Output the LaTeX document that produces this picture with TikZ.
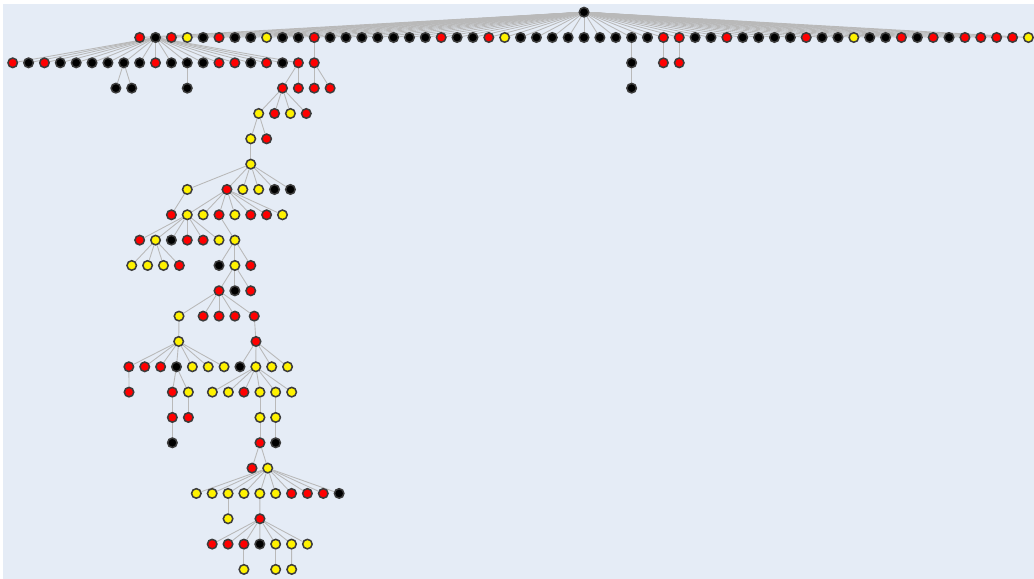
\documentclass[tikz,border=0pt]{standalone}
\definecolor{bgc}{RGB}{229,236,246}
\definecolor{rim}{RGB}{60,60,60}
\definecolor{lnk}{RGB}{185,185,185}
\pgfdeclarelayer{back}
\pgfsetlayers{back,main}
\tikzset{
  dot/.style={circle,draw=rim,line width=1.3pt,inner sep=0pt,minimum size=.285cm},
  R/.style={fill=red},
  B/.style={fill=black},
  Y/.style={fill=yellow},
  edge/.style={draw=lnk,line width=.75pt}
}
\begin{document}
\begin{tikzpicture}[x=.4761cm,y=.7599cm]
\useasboundingbox (-0.8003,0.4803) rectangle (64.354,-22.36);
\node[dot,B] (n0-1) at (36,0) {};
\foreach \s [count=\k] in {R,B,R,Y,B,R,B,B,Y,B,B,R,B,B,B,B,B,B,B,R,B,B,R,Y,B,B,B,B,B,B,B,B,B,R,R,B,B,R,B,B,B,B,R,B,B,Y,B,B,R,B,R,B,R,R,R,R,Y}
  {\node[dot,\s] (n1-\k) at (7+\k,-1) {};}
\foreach \s [count=\k] in {R,B,R,B,B,B,B,B,B,R,B,B,B,R,R,B,R,B,R}
  {\node[dot,\s] (n2-\k) at (\k-1,-2) {};}
\foreach \k/\c/\s in {20/19/R,21/39/B,22/41/R,23/42/R}
  {\node[dot,\s] (n2-\k) at (\c,-2) {};}
\foreach \k/\c/\s in {1/6.5/B,2/7.5/B,3/11/B,4/17/R,5/18/R,6/19/R,7/20/R,8/39/B}
  {\node[dot,\s] (n3-\k) at (\c,-3) {};}
\foreach \k/\c/\s in {1/15.5/Y,2/16.5/R,3/17.5/Y,4/18.5/R}
  {\node[dot,\s] (n4-\k) at (\c,-4) {};}
\node[dot,Y] (n5-1) at (15,-5) {};
\node[dot,R] (n5-2) at (16,-5) {};
\node[dot,Y] (n6-1) at (15,-6) {};
\foreach \k/\c/\s in {1/11/Y,2/13.5/R,3/14.5/Y,4/15.5/Y,5/16.5/B,6/17.5/B}
  {\node[dot,\s] (n7-\k) at (\c,-7) {};}
\foreach \s [count=\k] in {R,Y,Y,R,Y,R,R,Y}
  {\node[dot,\s] (n8-\k) at (9+\k,-8) {};}
\foreach \s [count=\k] in {R,Y,B,R,R,Y,Y}
  {\node[dot,\s] (n9-\k) at (7+\k,-9) {};}
\foreach \k/\c/\s in {1/7.5/Y,2/8.5/Y,3/9.5/Y,4/10.5/R,5/13/B,6/14/Y,7/15/R}
  {\node[dot,\s] (n10-\k) at (\c,-10) {};}
\foreach \k/\c/\s in {1/13/R,2/14/B,3/15/R}
  {\node[dot,\s] (n11-\k) at (\c,-11) {};}
\foreach \k/\c/\s in {1/10.48/Y,2/12/R,3/13/R,4/14/R,5/15.22/R}
  {\node[dot,\s] (n12-\k) at (\c,-12) {};}
\node[dot,Y] (n13-1) at (10.46,-13) {};
\node[dot,R] (n13-2) at (15.33,-13) {};
\foreach \s [count=\k] in {R,R,R,B,Y,Y,Y,B,Y,Y,Y}
  {\node[dot,\s] (n14-\k) at (6.32+\k,-14) {};}
\foreach \k/\c/\s in {1/7.33/R,2/10.06/R,3/11.07/Y,4/12.58/Y,5/13.59/Y,6/14.57/R,7/15.58/Y,8/16.57/Y,9/17.58/Y}
  {\node[dot,\s] (n15-\k) at (\c,-15) {};}
\foreach \k/\c/\s in {1/10.06/R,2/11.07/R,3/15.58/Y,4/16.57/Y}
  {\node[dot,\s] (n16-\k) at (\c,-16) {};}
\foreach \k/\c/\s in {1/10.06/B,2/15.58/R,3/16.57/B}
  {\node[dot,\s] (n17-\k) at (\c,-17) {};}
\node[dot,R] (n18-1) at (15.08,-18) {};
\node[dot,Y] (n18-2) at (16.07,-18) {};
\foreach \s [count=\k] in {Y,Y,Y,Y,Y,Y,R,R,R,B}
  {\node[dot,\s] (n19-\k) at (10.57+\k,-19) {};}
\node[dot,Y] (n20-1) at (13.57,-20) {};
\node[dot,R] (n20-2) at (15.58,-20) {};
\foreach \s [count=\k] in {R,R,R,B,Y,Y,Y}
  {\node[dot,\s] (n21-\k) at (11.57+\k,-21) {};}
\foreach \k/\c in {1/14.57,2/16.57,3/17.58}
  {\node[dot,Y] (n22-\k) at (\c,-22) {};}
% links, under the dots
\begin{pgfonlayer}{back}
\fill[bgc] (-0.611,0.322) rectangle (64.354,-22.36);
\foreach \k in {1,...,57}{\draw[edge] (n0-1.center)--(n1-\k.center);}
\foreach \k in {1,...,19}{\draw[edge] (n1-2.center)--(n2-\k.center);}
\foreach \k in {1,...,4}{\draw[edge] (n3-4)--(n4-\k);}
\foreach \k in {1,...,6}{\draw[edge] (n6-1)--(n7-\k);}
\foreach \k in {2,...,8}{\draw[edge] (n7-2)--(n8-\k);}
\foreach \k in {1,...,6}{\draw[edge] (n8-2)--(n9-\k);}
\foreach \k in {1,...,4}{\draw[edge] (n9-2)--(n10-\k);}
\foreach \k in {5,6,7}{\draw[edge] (n9-7)--(n10-\k);}
\foreach \k in {1,2,3}{\draw[edge] (n10-6)--(n11-\k);}
\foreach \k in {1,...,5}{\draw[edge] (n11-1)--(n12-\k);}
\foreach \k in {1,...,7}{\draw[edge] (n13-1)--(n14-\k);}
\foreach \k in {8,...,11}{\draw[edge] (n13-2)--(n14-\k);}
\foreach \k in {4,...,9}{\draw[edge] (n14-9)--(n15-\k);}
\foreach \k in {1,...,10}{\draw[edge] (n18-2)--(n19-\k);}
\foreach \k in {1,...,7}{\draw[edge] (n20-2)--(n21-\k);}
\foreach \a/\b in {n1-12/n2-20,n1-32/n2-21,n1-34/n2-22,n1-35/n2-23,
  n2-8/n3-1,n2-8/n3-2,n2-12/n3-3,n2-19/n3-4,n2-19/n3-5,n2-20/n3-6,n2-20/n3-7,n2-21/n3-8,
  n4-1/n5-1,n4-1/n5-2,n5-1/n6-1,n7-1/n8-1,n8-4/n9-7,n12-1/n13-1,n12-5/n13-2,
  n14-1/n15-1,n14-4/n15-2,n14-4/n15-3,n15-2/n16-1,n15-3/n16-2,n15-7/n16-3,n15-8/n16-4,
  n16-1/n17-1,n16-3/n17-2,n16-4/n17-3,n17-2/n18-1,n17-2/n18-2,
  n19-3/n20-1,n19-5/n20-2,n21-3/n22-1,n21-5/n22-2,n21-6/n22-3}
  {\draw[edge] (\a)--(\b);}
\end{pgfonlayer}
\end{tikzpicture}
\end{document}
